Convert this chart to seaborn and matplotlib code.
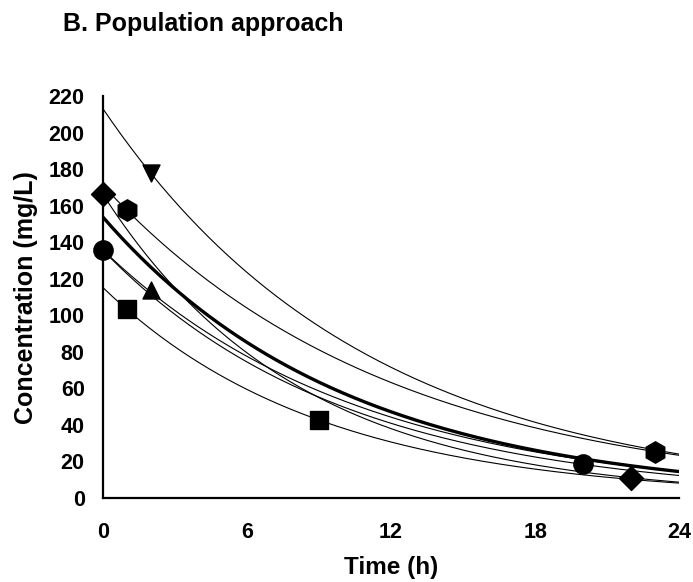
import numpy as np
import pandas as pd
import matplotlib
matplotlib.use("Agg")
import matplotlib.pyplot as plt
import seaborn as sns

# Observed concentrations per subject
subjects = ["S1", "S2", "S3", "S4", "S5", "S6"]
obs_subject = ["S1", "S2", "S2", "S3", "S3", "S4", "S4", "S5", "S6", "S6"]
obs_time = [2, 0, 22, 1, 23, 0, 20, 2, 1, 9]
obs_conc = [177.8, 166.5, 11.1, 157.7, 25.4, 135.8, 18.4, 113.9, 103.3, 42.7]
subject_markers = {"S1": "v", "S2": "D", "S3": "h", "S4": "o", "S5": "^", "S6": "s"}
marker_sizes = {"S1": 150, "S2": 150, "S3": 230, "S4": 190, "S5": 150, "S6": 150}

# One-compartment elimination: C(t) = C0 * exp(-k t)
indiv_c0 = [213.4, 166.5, 171.3, 135.8, 136.0, 115.4]
indiv_k = [0.0910, 0.1231, 0.0830, 0.09995, 0.0935, 0.1104]
pop_c0 = 154.0
pop_k = 0.0985

x_ticks = [0, 6, 12, 18, 24]
y_ticks = list(range(0, 221, 20))

t_grid = np.linspace(0, 24, 241)
curves = pd.concat(
    [pd.DataFrame({"subject": s, "time": t_grid, "conc": c0 * np.exp(-k * t_grid)})
     for s, c0, k in zip(subjects, indiv_c0, indiv_k)],
    ignore_index=True,
)
pop_curve = pd.DataFrame({"time": t_grid, "conc": pop_c0 * np.exp(-pop_k * t_grid)})
obs = pd.DataFrame({"subject": obs_subject, "time": obs_time, "conc": obs_conc})

sns.set_theme(style="white")
plt.rcParams["font.family"] = ["Liberation Sans", "DejaVu Sans"]
plt.rcParams["font.weight"] = "bold"

fig = plt.figure(figsize=(6.93, 5.82), dpi=100)
ax = fig.add_axes([0.1482, 0.1443, 0.8320, 0.6902])

sns.lineplot(data=curves, x="time", y="conc", units="subject", estimator=None,
             color="black", linewidth=0.8, ax=ax, legend=False)
sns.lineplot(data=pop_curve, x="time", y="conc", color="black", linewidth=2.4,
             ax=ax, legend=False)
for s in subjects:
    sub = obs[obs["subject"] == s]
    sns.scatterplot(data=sub, x="time", y="conc", marker=subject_markers[s],
                    color="black", edgecolor="black", s=marker_sizes[s], ax=ax,
                    legend=False, zorder=5, clip_on=False)

ax.set_xlim(0, 24)
ax.set_ylim(0, 220)
ax.set_xticks(x_ticks)
ax.set_yticks(y_ticks)
sns.despine(ax=ax)
for side in ("left", "bottom"):
    ax.spines[side].set_color("black")
    ax.spines[side].set_linewidth(1.6)

ax.tick_params(axis="y", direction="out", length=5, width=1.4, color="black",
               pad=8, labelsize=15.5, labelcolor="black")
ax.tick_params(axis="x", direction="inout", length=9, width=1.4, color="black",
               pad=13, labelsize=15.5, labelcolor="black")
for lbl in ax.get_xticklabels() + ax.get_yticklabels():
    lbl.set_fontweight("bold")

ax.set_xlabel("Time (h)", fontsize=17.5, fontweight="bold", color="black", labelpad=9)
ax.set_ylabel("Concentration (mg/L)", fontsize=18, fontweight="bold", color="black",
              labelpad=8)
fig.text(63 / 693, 1 - 24 / 582, "B. Population approach", fontsize=18,
         fontweight="bold", color="black", ha="left", va="center")

fig.savefig("out.png", dpi=100, facecolor="white")
